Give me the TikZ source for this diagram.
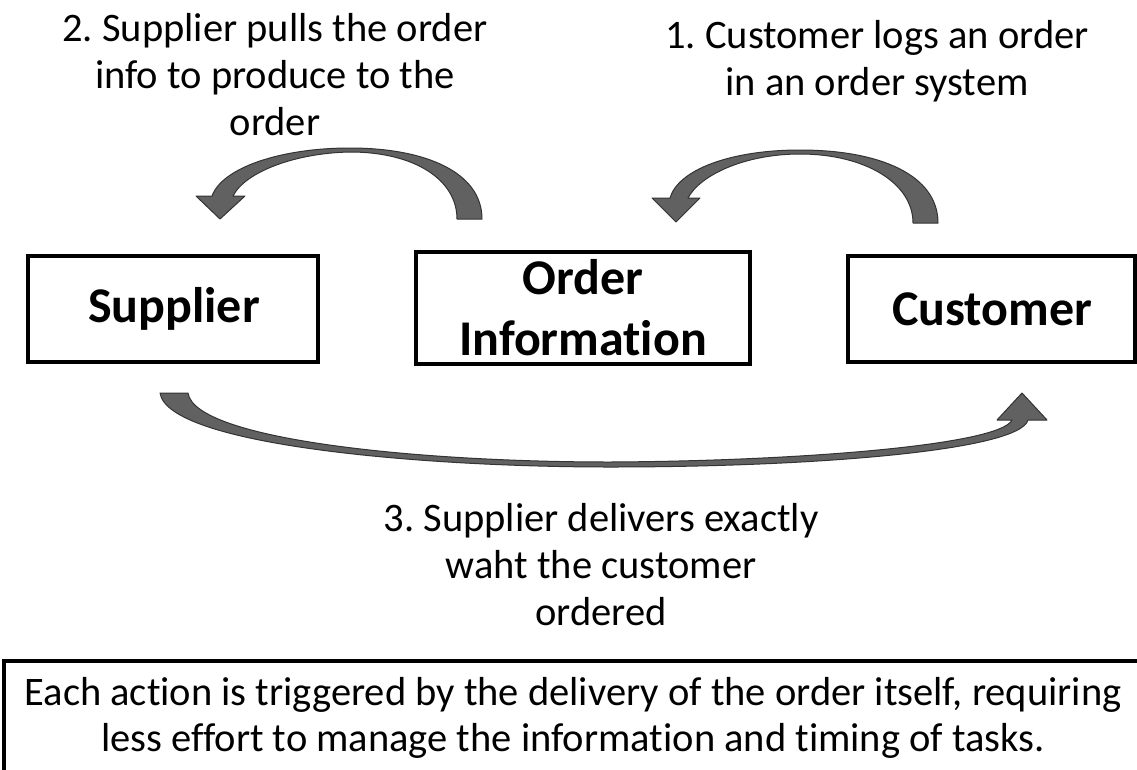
\documentclass[tikz,border=0pt]{standalone}
\usepackage{fontspec}
\setmainfont{Carlito}[Ligatures={NoCommon}]
\frenchspacing
\begin{document}
\begin{tikzpicture}[x=1pt,y=-1pt,
  blk/.style={draw=black,line width=4pt,fill=white,inner sep=0pt},
  boxlabel/.style={font=\fontsize{50}{61}\selectfont\bfseries,align=center},
  note/.style={font=\fontsize{40.5}{47}\selectfont,align=center},
  curvearrow/.style={fill=black!62,draw=black!80,line width=1pt,line join=round}]
\useasboundingbox (0,0) rectangle (1137,769);

% process boxes
\draw[blk] (28,256) rectangle (318,362);
\draw[blk] (416,252) rectangle (750,364);
\draw[blk] (848,256) rectangle (1135,362);
\node[boxlabel] (supplier) at (174,309) {Supplier};
\node[boxlabel] (orderinfo) at (583,308) {Order\\Information};
\node[boxlabel] (customer) at (992,309) {Customer};

% step captions
\node[note] (step2) at (275,75) {2. Supplier pulls the order\\info to produce to the\\order};
\node[note] (step1) at (877,61) {1. Customer logs an order\\in an order system};
\node[note] (step3) at (601,565) {3. Supplier delivers exactly\\waht the customer\\ordered};

% curved block arrows
\filldraw[curvearrow] (482,219) .. controls (482,172) and (425,148) .. (350,148)
  .. controls (280,148) and (222,168) .. (212,196) -- (196,196) -- (220,219) -- (245,196) -- (233,196)
  .. controls (245,172) and (295,153) .. (350,152)
  .. controls (415,152) and (457,180) .. (457,219) -- cycle;
\filldraw[curvearrow] (938,223) .. controls (938,175) and (880,150) .. (800,150)
  .. controls (730,150) and (678,170) .. (670,198) -- (652,198) -- (676,222) -- (700,198) -- (688,198)
  .. controls (700,175) and (745,154) .. (800,154)
  .. controls (865,154) and (913,183) .. (913,223) -- cycle;
\filldraw[curvearrow] (160,393) .. controls (168,445) and (420,467) .. (610,467)
  .. controls (820,467) and (1020,450) .. (1028,420) -- (1047,420) -- (1022,393) -- (997,420) -- (1012,420)
  .. controls (1000,445) and (800,461) .. (610,462)
  .. controls (420,462) and (195,440) .. (188,393) -- cycle;

% summary box, running off the page edge
\draw[blk] (4,661) rectangle (1150,785);
\node[font=\fontsize{40.5}{46}\selectfont,align=center] (summary) at (573,718)
  {Each action is triggered by the delivery of the order itself, requiring\\less effort to manage the information and timing of tasks.};
\end{tikzpicture}
\end{document}
